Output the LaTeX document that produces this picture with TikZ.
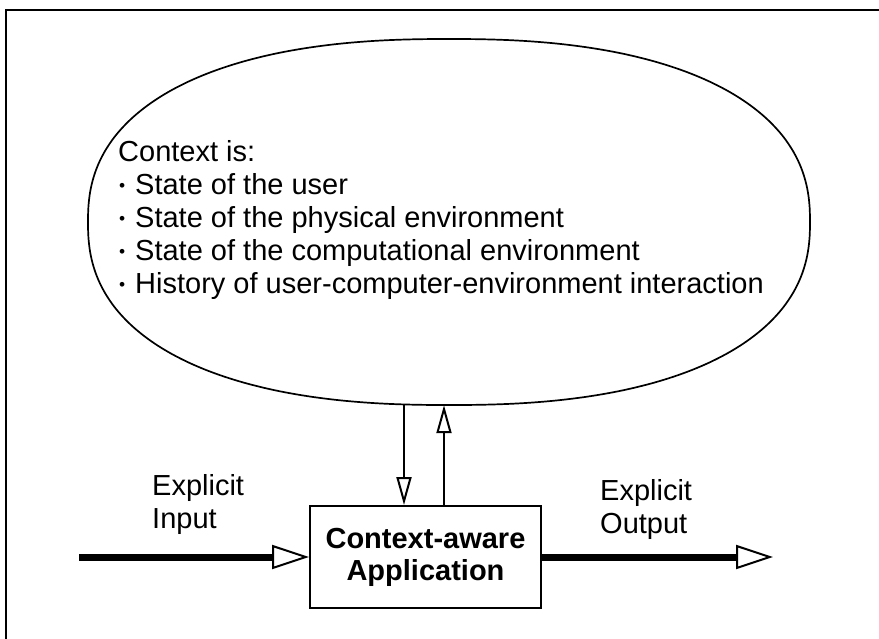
\documentclass[tikz,border=0pt]{standalone}
\usepackage{fontspec}
\setmainfont{Liberation Sans}
\usepackage{graphicx}
\usetikzlibrary{shapes.geometric,arrows.meta}
\newcommand\bulmark{\makebox[16pt][l]{\raisebox{3pt}{\scalebox{0.6}{•}}}}
\tikzset{
  txt/.style={anchor=base west, inner sep=0pt, font=\fontsize{29}{33}\selectfont},
  ctxshape/.style={ellipse, minimum width=722pt, minimum height=368pt, inner sep=0pt},
  outline/.style={line width=1.7pt},
  appbox/.style={draw, line width=2pt, minimum width=231pt, minimum height=102pt, inner sep=0pt, align=center, font=\fontsize{29}{32}\selectfont\bfseries},
  thickarrow/.style={line width=7pt, -{Triangle[open, length=37pt, width=24pt, line width=2pt]}},
  thinarrow/.style={line width=2pt, -{Triangle[open, length=28pt, width=15pt, line width=2pt]}},
}
\begin{document}
\begin{tikzpicture}[x=1pt, y=-1pt]
\useasboundingbox (0,0) rectangle (879,638);
\fill[white] (0,0) rectangle (879,638);
\draw[line width=2pt] (6,10) rectangle (890,650);
\node[ctxshape] (ctx) at (449,222) {};
\draw[outline] plot[domain=1:359, samples=180, smooth, variable=\t]
  ({449+361*sign(cos(\t))*pow(abs(cos(\t))+0.00001,0.85)},
   {222+183*sign(sin(\t))*pow(abs(sin(\t))+0.00001,0.85)}) -- cycle;
\node[txt] (t0) at (118,161) {Context is:};
\node[txt] (t1) at (119,194) {\bulmark State of the user};
\node[txt] (t2) at (119,227) {\bulmark State of the physical environment};
\node[txt] (t3) at (119,260) {\bulmark State of the computational environment};
\node[txt] (t4) at (119,293) {\bulmark History of user-computer-environment interaction};
\node[appbox] (box) at (425.5,557) {Context-aware\\Application};
\node[txt] (ein1) at (152,495) {Explicit};
\node[txt] (ein2) at (152,528) {Input};
\node[txt] (eout1) at (600,500) {Explicit};
\node[txt] (eout2) at (600,533) {Output};
\coordinate (inS) at (79,557);
\coordinate (outE) at (773,557);
\draw[thickarrow] (inS) -- (box.west);
\draw[thickarrow] (box.east) -- (outE);
\coordinate (dtop) at ([xshift=-45pt,yshift=1pt]ctx.south);
\coordinate (dbot) at (dtop |- box.north);
\coordinate (utop) at ([xshift=-5pt,yshift=1pt]ctx.south);
\coordinate (ubot) at (utop |- box.north);
\draw[thinarrow] (dtop) -- (dbot);
\draw[thinarrow] (ubot) -- (utop);
\end{tikzpicture}
\end{document}
